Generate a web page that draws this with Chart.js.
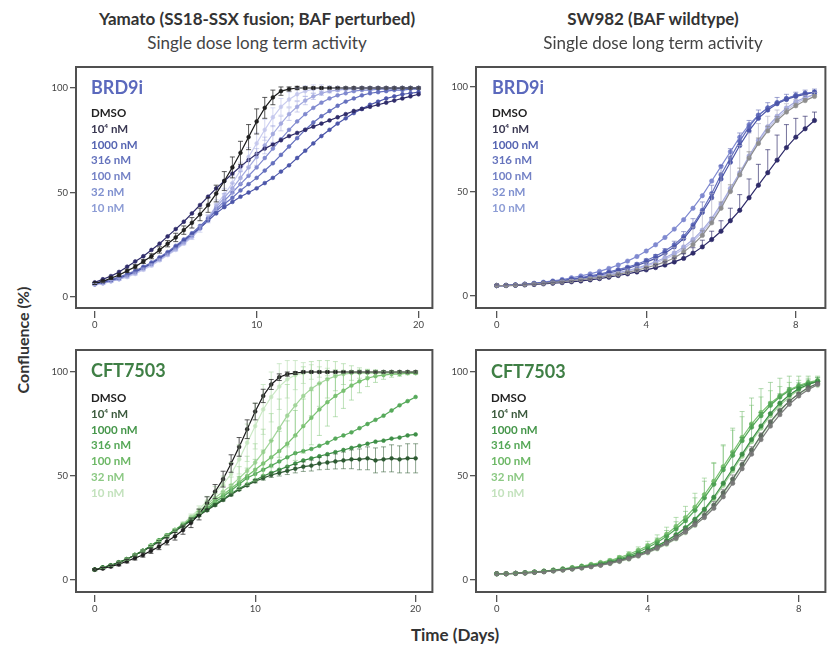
<!DOCTYPE html>
<html><head><meta charset="utf-8">
<script src="https://cdn.jsdelivr.net/npm/chart.js@4.4.0/dist/chart.umd.min.js"></script>
<style>
html,body{margin:0;padding:0;background:#fff;overflow:hidden;width:827px;height:649px;}
body{position:relative;font-family:Lato,"Open Sans",sans-serif;}
canvas{position:absolute;}
.t{position:absolute;white-space:nowrap;color:#333;}
.ttl{font-weight:700;font-size:17px;line-height:22px;text-align:center;width:400px;}
.sub{font-weight:400;font-size:17px;line-height:22px;text-align:center;width:400px;color:#444;}
.ptitle{font-weight:700;font-size:18px;line-height:22px;}
.leg{font-weight:700;font-size:11.5px;line-height:15.8px;}
</style></head><body>
<canvas id="cTL" width="401" height="278" style="left:36px;top:55px"></canvas>
<canvas id="cTR" width="394" height="278" style="left:436px;top:55px"></canvas>
<canvas id="cBL" width="401" height="279" style="left:36px;top:338px"></canvas>
<canvas id="cBR" width="394" height="279" style="left:436px;top:338px"></canvas>
<script>
// ---------- data ----------
const tLong = [0,0.5,1,1.5,2,2.5,3,3.5,4,4.5,5,5.5,6,6.5,7,7.5,8,8.5,9,9.5,10,10.5,11,11.5,12,12.5,13,13.5,14,14.5,15,15.5,16,16.5,17,17.5,18,18.5,19,19.5,20];
const tShort = [0,0.25,0.5,0.75,1,1.25,1.5,1.75,2,2.25,2.5,2.75,3,3.25,3.5,3.75,4,4.25,4.5,4.75,5,5.25,5.5,5.75,6,6.25,6.5,6.75,7,7.25,7.5,7.75,8,8.25,8.5];
const doseLabels = ['DMSO','10\u2074 nM','1000 nM','316 nM','100 nM','32 nM','10 nM'];
const xTicksLong = [0,10,20];
const xTicksShort = [0,4,8];
const yTicks = [0,50,100];

// Yamato, BRD9i
const TL_DMSO = [6.5,7.5,9,10.5,12.5,14.5,17,19.5,22.5,25.5,28.5,32,35.5,39.5,44,49.5,55.5,62,69,76.5,84,90.5,95.5,98.5,99.5,100,100,100,100,100,100,100,100,100,100,100,100,100,100,100,100];
const TL_1e4 = [7,8.5,10,12,14.5,17,19.5,22.5,25.5,29,32.5,36,40,44,48,52,55.5,59,62.5,65.5,68.5,71,73,75,77,78.5,80,81.5,83,84.5,86,87.5,89,90,91,92,93,94,95,96,97];
const TL_1000 = [6.5,7,8,9,10.5,12,14,16,18.5,21,24,27,30,33,36.5,40,43,45.5,48,50,52,54.5,57,60,63,66.5,70,73.5,77,80,83,85.5,88,90,92,93.5,95,96,97,97.5,98];
const TL_316 = [6.5,7.5,8.5,9.5,11,12.5,14.5,16.5,19,21.5,24.5,27.5,30.5,34,37.5,41,44.5,47.5,51,54,57,60.5,64,68,72,76,80,83.5,86.5,89,91.5,93.5,95,96.5,97.5,98,98.5,99,99,99.5,99.5];
const TL_100 = [6,7,8,9,10.5,12,14,16,18.5,21,23.5,26.5,29.5,33,37,42,46,50,54,58,62,66.5,71,75.5,80,84,87.5,90.5,93,95,96.5,97.5,98.5,99,99,99.5,99.5,99.5,100,100,100];
const TL_32 = [6,6.5,7.5,8.5,10,11.5,13.5,15.5,18,20.5,23,26,29,33,38,43,47.5,52,57,62,67,72.5,78,83,87.5,91,94,96,97.5,98.5,99,99.5,99.5,100,100,100,100,100,100,100,100];
const TL_10 = [6,6.5,7.5,8.5,9.5,11,13,15,17.5,20,22.5,25.5,28.5,32.5,37.5,44,49,54.5,60.5,67,73.5,80,86,91,94.5,97,98.5,99.5,100,100,100,100,100,100,100,100,100,100,100,100,100];
const TL_DMSO_err = [0.5,0.5,0.6,0.7,0.8,1,1,1.2,1.5,1.5,2,2,2.5,3,3.5,4,4.5,5,5.5,6,6,5,3.5,2,1,0.8,0.6,0.5,0.5,0.5,0.5,0.5,0.5,0.5,0.5,0.5,0.5,0.5,0.5,0.5,0.5];
const TL_32_err = [0.5,0.5,0.5,0.5,0.5,0.5,0.5,0.5,0.5,0.5,0.5,0.5,0.5,0.5,1,1.5,2,2.5,3,3.5,4,4,4,3.5,3,2.5,2,1.5,1,0.8,0.6,0.5,0.5,0.5,0.5,0.5,0.5,0.5,0.5,0.5,0.5];
const TL_10_err = [0.5,0.5,0.5,0.5,0.5,0.5,0.5,0.5,0.5,0.5,0.5,0.5,1,1.5,2,2.5,3,3.5,4,4.5,5,5,4.5,4,3.5,3,2.5,2,1.5,1,0.8,0.6,0.5,0.5,0.5,0.5,0.5,0.5,0.5,0.5,0.5];

// Yamato, CFT7503
const BL_DMSO = [5,5.5,6.5,7.5,9,10.5,12,14,16,18.5,21,24,27.5,31.5,37,42.5,48.5,56,64,72.5,81,88.5,94,97.5,99,99.5,100,100,100,100,100,100,100,100,100,100,100,100,100,100,100];
const BL_1e4 = [5,6,7,8.5,10,12,14,16,18.5,21,23.5,26,28.5,31,33.5,36,38.5,41,43.5,45.5,47.5,49,50.5,51.5,52.5,53.5,54.5,55,56,56.5,57,57.5,58,58,58.5,57.5,58,58.5,58,58.5,58.5];
const BL_1000 = [5,6,7,8.5,10,12,14,16.5,19,21.5,24,26.5,29,31.5,34,36.5,39,41.5,44,46,48,50,51.5,53,54.5,56,57.5,58.5,59.5,60.5,61.5,62.5,63.5,64.5,65.5,66.5,67,68,68.5,69.5,70];
const BL_316 = [5,6,7,8.5,10,12,14,16.5,19,21.5,24,26.5,29,31.5,34.5,37.5,40,43,46,49,51,53,55,57,59,61,62,63,64.5,66,68,69.5,71,73,75,77,79,81.5,84,86,88];
const BL_100 = [5,6,7,8.5,10,12,14,16.5,19,21.5,24,26.5,29.5,32.5,35.5,38.5,41,44,47,50,53,56,59,62,65.5,69.5,74,78,82,85.5,88.5,91,93.5,95.5,97,98,98.5,99,99,99.5,99.5];
const BL_32 = [5,6,7,8.5,10,12,14,16.5,19,21.5,24,27,30,33,36.5,39.5,42.5,45.5,49,52.5,56.5,61.5,67,73,79,84,88.5,92,94.5,96.5,98,99,99.5,99.5,99.5,99.5,99.5,99.5,99.5,99.5,99.5];
const BL_10 = [5,6,7,8.5,10,12,14,16.5,19,21.5,24,27,30.5,34,38,42,46,51,58,66,74,82,88,93,96.5,98.5,99.5,100,100,100,100,100,100,100,100,100,100,100,100,100,100];
const BL_DMSO_err = [0.5,0.5,0.6,0.7,0.8,0.9,1,1.2,1.4,1.6,1.8,2,2.3,2.6,3,3.4,3.8,4.2,4.5,4.5,4,3.2,2.4,1.6,1,0.7,0.5,0.5,0.5,0.5,0.5,0.5,0.5,0.5,0.5,0.5,0.5,0.5,0.5,0.5,0.5];
const BL_1e4_err = [0.5,0.5,0.5,0.5,0.5,0.5,0.5,0.5,0.5,0.5,0.5,0.5,0.5,0.5,0.5,0.5,0.5,0.5,0.5,0.5,0.8,1,1.2,1.5,1.8,2,2.3,2.6,3,3.3,3.6,4,4.5,5,5.5,6,6,6.5,6.5,7,7];
const BL_100_err = [0.5,0.5,0.5,0.5,0.5,0.5,0.5,0.5,0.5,0.5,0.5,0.5,0.5,0.5,0.7,1,1.4,2,2.8,3.8,5,6.5,8,9.5,11,12,13,13,12.5,11.5,10,8.5,7,5.5,4,3,2,1.5,1,0.8,0.6];
const BL_32_err = [0.5,0.5,0.5,0.5,0.5,0.5,0.5,0.5,0.5,0.5,0.5,0.5,0.8,1,1.4,2,3,4,5.5,7,9,11,13,14,15,15,14,13,11,9,7,5,3.5,2.5,1.8,1.2,0.8,0.6,0.5,0.5,0.5];
const BL_10_err = [0.5,0.5,0.5,0.5,0.5,0.5,0.5,0.5,0.5,0.5,0.7,0.9,1.2,1.6,2.2,3,4,5.5,7,9,11,12,12,11,9,7,5,3.5,2.5,1.8,1.2,0.8,0.6,0.5,0.5,0.5,0.5,0.5,0.5,0.5,0.5];

// SW982, BRD9i
const TR_DMSO = [5,5,5.2,5.5,5.8,6.1,6.5,6.9,7.3,7.8,8.3,8.9,9.6,10.4,11.3,12.3,13.5,14.8,16.3,18.2,21,24.5,29,35,42,50,58,66,73,79,84,88,91,93.5,95.5];
const TR_1e4 = [5,5,5.1,5.3,5.5,5.8,6.1,6.4,6.8,7.2,7.7,8.3,9,9.8,10.6,11.5,12.5,13.6,14.8,16.3,18,20.5,23.5,27,31,36,41,47,53,59,65,71,76,80,84];
const TR_1000 = [5,5.1,5.3,5.6,5.9,6.3,6.8,7.3,7.9,8.5,9.2,10,11,12,13.2,14.6,16.2,18,20.5,23.5,27.5,33,40,47,56,64,72,79,85,89,92,94,95.5,96.5,97.5];
const TR_316 = [5,5.1,5.3,5.6,6,6.4,6.9,7.5,8.1,8.8,9.6,10.5,11.5,12.6,13.8,15.2,17,19,21.5,24.5,28.5,34,41,49,58,66,74,81,86.5,90,92.5,94.5,96,97,97.5];
const TR_100 = [5,5.1,5.3,5.7,6.1,6.6,7.2,7.9,8.7,9.6,10.6,11.8,13.2,14.8,16.7,18.9,21.5,24.5,28,32,36.5,42,48,55,62,69,76,82,86.5,90,92.5,94.5,96,97,97.5];
const TR_32 = [5,5,5.2,5.5,5.8,6.2,6.6,7.1,7.6,8.2,8.8,9.5,10.3,11.2,12.2,13.4,14.8,16.4,18.3,20.6,23.5,27,31.5,37,44,51.5,59,67,74.5,81,86,90,93,95,96.5];
const TR_10 = [5,5,5.2,5.5,5.8,6.1,6.5,7,7.5,8,8.6,9.3,10,10.9,11.9,13,14.3,15.8,17.6,19.8,22.5,26,30.5,36,43,50.5,58,66,73.5,80,85,89,92,94.5,96.5];
const TR_DMSO_err = [0.2,0.2,0.2,0.2,0.2,0.2,0.2,0.2,0.2,0.2,0.3,0.3,0.4,0.4,0.5,0.6,0.7,0.8,1,1.2,1.5,1.8,2.2,2.6,3,3.2,3.2,3,2.6,2.2,1.8,1.5,1.2,1,0.8];
const TR_1e4_err = [0.3,0.3,0.3,0.3,0.3,0.3,0.4,0.4,0.4,0.5,0.5,0.6,0.7,0.8,0.9,1,1.2,1.4,1.6,1.9,2.2,2.6,3.2,4,5,6,7.5,9,10,11,12,11,9,6,4];
const TR_1000_err = [0.2,0.2,0.2,0.3,0.3,0.3,0.4,0.4,0.5,0.5,0.6,0.7,0.8,0.9,1,1.2,1.5,1.8,2.2,2.7,3.3,4,5,6,6.5,6.5,6,5,4,3.5,3,2.5,2,2,1.5];
const TR_10_err = [0.2,0.2,0.2,0.2,0.3,0.3,0.3,0.4,0.4,0.5,0.5,0.6,0.7,0.8,1,1.2,1.5,2,2.5,3.5,5,7,10,13,16,16,14,12,9,6,4,3,2,1.5,1];

// SW982, CFT7503
const BR_DMSO = [3,3,3.2,3.4,3.7,4,4.4,4.8,5.3,5.8,6.4,7.1,8,9,10.2,11.6,13.3,15.2,17.5,20,23,26.5,30,34.5,40,46.5,53.5,60.5,67.5,74,79.5,84.5,88.5,91.5,94];
const BR_1e4 = [3,3,3.2,3.4,3.7,4,4.4,4.9,5.4,6,6.6,7.3,8.2,9.3,10.5,12,13.7,15.7,18,20.7,23.8,27.2,31.2,36,42,48.5,55.5,62.5,69.5,76,81.5,86,89.5,92.5,94.5];
const BR_1000 = [3,3,3.2,3.5,3.8,4.2,4.6,5.1,5.6,6.2,6.9,7.7,8.6,9.7,11,12.5,14.3,16.4,18.9,21.8,25.2,29.2,34,39.8,46.5,53.5,60.5,67.5,74,80,85,89,92,94,95.5];
const BR_316 = [3,3,3.2,3.5,3.8,4.2,4.7,5.2,5.8,6.5,7.2,8,9,10.2,11.6,13.4,15.6,18,21,24.5,28.5,33.5,39.5,46,53,60,67,73.5,79,84,88,91,93,94.5,95.5];
const BR_100 = [3,3,3.2,3.5,3.9,4.3,4.8,5.4,6,6.7,7.5,8.4,9.4,10.8,12.4,14.3,16.5,19,22,25.8,30,35,41,47.5,54.5,61.5,68.5,75,80.5,85,88.5,91.5,93.5,95,96];
const BR_32 = [3,3,3.2,3.4,3.7,4.1,4.5,5,5.5,6.1,6.8,7.6,8.5,9.6,10.9,12.4,14.2,16.3,18.7,21.5,24.8,28.8,33.5,39,45.5,52.5,59.5,66.5,73,79,84,88,91.5,94,95.5];
const BR_10 = [3,3,3.1,3.3,3.6,3.9,4.3,4.7,5.2,5.7,6.3,7,7.8,8.8,10,11.4,13,14.9,17.1,19.7,22.7,26.2,30.3,35.3,41.2,48,55,62,69,75.5,81,86,89.5,92,93.5];
const BR_DMSO_err = [0.2,0.2,0.2,0.2,0.2,0.2,0.2,0.2,0.3,0.3,0.4,0.4,0.5,0.6,0.7,0.8,1,1.2,1.4,1.7,2,2.4,2.8,3.2,3.6,4,4,3.6,3.2,2.8,2.4,2,1.6,1.3,1];
const BR_1000_err = [0.2,0.2,0.2,0.2,0.2,0.2,0.2,0.2,0.3,0.3,0.4,0.5,0.6,0.7,0.9,1.1,1.4,1.8,2.3,2.9,3.6,4.5,5.5,6.5,7.5,8,8,7.5,6.5,5.5,4.5,3.5,2.8,2.2,1.8];
const BR_316_err = [0.2,0.2,0.2,0.2,0.2,0.2,0.2,0.2,0.3,0.3,0.4,0.5,0.6,0.8,1,1.3,1.7,2.2,2.8,3.5,4.5,6,8,10,12,13,14,14,13,11,9,7,5,3.5,2.5];
const BR_100_err = [0.2,0.2,0.2,0.2,0.2,0.2,0.2,0.2,0.3,0.3,0.4,0.5,0.7,0.9,1.2,1.6,2.1,2.7,3.4,4.3,5.4,6.7,8,9,10,10.5,10,9,7.5,6,4.5,3.5,2.5,2,1.5];

// ---------- styles ----------
const blueLine = ['#1c1c1c','#2f2c6a','#4c56a9','#6570be','#8089cf','#a4aadf','#c9ccef'];
const blueLineTR = ['#8e8e8e','#2f2c6a','#4c56a9','#6570be','#7f89d0','#a4aadf','#c0c4ea'];
const greenLine = ['#1c1c1c','#2e5a33','#3e8f47','#56a95a','#79c171','#a2d59a','#cbe9c5'];
const greenLineBR = ['#7a7a7a','#5a6a5c','#3e8f47','#56a95a','#79c171','#a2d59a','#c3e4bd'];
const blueText = ['#222222','#3a3852','#5564b2','#6573bd','#7482c6','#7f90cf','#8c9cd5'];
const greenText = ['#222222','#3b5a3d','#45964a','#56a858','#6db866','#8cc984','#c3e2bd'];

Chart.defaults.font.family = 'Lato, "Open Sans", sans-serif';

const boxPlugin = {
  id:'box',
  afterDraw(chart){
    const a = chart.chartArea, ctx = chart.ctx;
    ctx.save();
    ctx.strokeStyle = '#505050'; ctx.lineWidth = 2;
    ctx.strokeRect(a.left, a.top, a.right - a.left, a.bottom - 3 - a.top);
    ctx.restore();
  }
};
const errPlugin = {
  id:'errbars',
  afterDatasetsDraw(chart){
    const ctx = chart.ctx, xs = chart.scales.x, ys = chart.scales.y, a = chart.chartArea;
    ctx.save();
    ctx.beginPath(); ctx.rect(a.left, a.top, a.right - a.left, a.bottom - 3 - a.top); ctx.clip();
    for (let i = chart.data.datasets.length - 1; i >= 0; i--) {
      const ds = chart.data.datasets[i];
      if (!ds.err) continue;
      ctx.strokeStyle = ds.errColor; ctx.lineWidth = 0.9;
      ds.data.forEach((p, j) => {
        const e = ds.err[j]; if (!e) return;
        const x = xs.getPixelForValue(p.x);
        const yt = ys.getPixelForValue(p.y + e);
        const yb = ds.errUp ? ys.getPixelForValue(p.y) : ys.getPixelForValue(p.y - e);
        ctx.beginPath();
        ctx.moveTo(x, yb); ctx.lineTo(x, yt);
        ctx.moveTo(x - 2.5, yt); ctx.lineTo(x + 2.5, yt);
        if (!ds.errUp) { ctx.moveTo(x - 2.5, yb); ctx.lineTo(x + 2.5, yb); }
        ctx.stroke();
      });
    }
    ctx.restore();
  }
};

function makePanel(id, t, series, errs, colors, errColors, xr, yr, xt, errUp, pr) {
  const datasets = series.map((s, k) => ({
    data: s.map((v, i) => ({x: t[i], y: v})),
    borderColor: colors[k], backgroundColor: colors[k],
    borderWidth: 1.2, pointRadius: pr, pointBorderWidth: 0.6,
    pointBackgroundColor: colors[k], pointBorderColor: colors[k],
    tension: 0, err: errs[k], errColor: errColors[k], errUp: errUp
  }));
  new Chart(document.getElementById(id), {
    type: 'line',
    data: { datasets },
    options: {
      responsive: false, animation: false, devicePixelRatio: 1,
      layout: { padding: { top: 12, right: 0, bottom: 0, left: 0 } },
      plugins: { legend: { display: false }, tooltip: { enabled: false } },
      scales: {
        x: { type: 'linear', min: xr[0], max: xr[1],
          afterBuildTicks: s => { s.ticks = xt.map(v => ({value: v})); },
          afterFit: s => { s.height = 22; },
          grid: { drawOnChartArea: false, drawTicks: true, tickLength: 7, color: '#555', lineWidth: 1.3 },
          border: { display: false },
          ticks: { padding: 1, color: '#444', font: { size: 9.5 }, maxRotation: 0, autoSkip: false } },
        y: { type: 'linear', min: yr[0], max: yr[1],
          afterBuildTicks: s => { s.ticks = yTicks.map(v => ({value: v})); },
          afterFit: s => { s.width = 40; },
          grid: { drawOnChartArea: false, drawTicks: true, tickLength: 6, color: '#555', lineWidth: 1.3 },
          border: { display: false },
          ticks: { padding: 2, color: '#444', font: { size: 9.5 } } }
      }
    },
    plugins: [errPlugin, boxPlugin]
  });
}

const errL = ['rgba(40,40,40,0.85)','rgba(47,44,106,0.7)','rgba(76,86,169,0.5)','rgba(101,112,190,0.5)','rgba(128,137,207,0.5)','rgba(164,170,223,0.6)','rgba(190,194,235,0.7)'];
const errG = ['rgba(40,40,40,0.85)','rgba(46,90,51,0.6)','rgba(62,143,71,0.5)','rgba(86,169,90,0.5)','rgba(121,193,113,0.55)','rgba(162,213,154,0.7)','rgba(190,225,184,0.8)'];
const errTR = ['rgba(140,140,140,0.8)','rgba(47,44,106,0.75)','rgba(76,86,169,0.6)','rgba(101,112,190,0.6)','rgba(128,137,207,0.6)','rgba(164,170,223,0.7)','rgba(180,180,200,0.8)'];
const errBR = ['rgba(110,110,110,0.7)','rgba(90,106,92,0.6)','rgba(62,143,71,0.55)','rgba(110,185,105,0.6)','rgba(121,193,113,0.6)','rgba(162,213,154,0.7)','rgba(190,225,184,0.8)'];

makePanel('cTL', tLong, [TL_DMSO,TL_1e4,TL_1000,TL_316,TL_100,TL_32,TL_10],
  [TL_DMSO_err,null,null,null,null,TL_32_err,TL_10_err], blueLine, errL,
  [-1.159, 20.854], [-6.70, 110.05], xTicksLong, false, 1.9);
makePanel('cTR', tShort, [TR_DMSO,TR_1e4,TR_1000,TR_316,TR_100,TR_32,TR_10],
  [TR_DMSO_err,TR_1e4_err,TR_1000_err,null,null,null,TR_10_err], blueLineTR, errTR,
  [-0.554, 8.792], [-7.18, 109.57], xTicksShort, true, 2.2);
makePanel('cBL', tLong, [BL_DMSO,BL_1e4,BL_1000,BL_316,BL_100,BL_32,BL_10],
  [BL_DMSO_err,BL_1e4_err,null,null,BL_100_err,BL_32_err,BL_10_err], greenLine, errG,
  [-1.169, 21.046], [-7.21, 110.58], xTicksLong, false, 1.9);
makePanel('cBR', tShort, [BR_DMSO,BR_1e4,BR_1000,BR_316,BR_100,BR_32,BR_10],
  [BR_DMSO_err,null,BR_1000_err,BR_316_err,BR_100_err,null,null], greenLineBR, errBR,
  [-0.549, 8.706], [-7.21, 110.58], xTicksShort, true, 2.2);

// ---------- text ----------
function addText(cls, txt, left, top, color, extra) {
  const d = document.createElement('div');
  d.className = 't ' + cls; d.textContent = txt;
  d.style.left = left + 'px'; d.style.top = top + 'px';
  if (color) d.style.color = color;
  if (extra) Object.assign(d.style, extra);
  document.body.appendChild(d);
  return d;
}
addText('ttl', 'Yamato (SS18-SSX fusion; BAF perturbed)', 57, 8, '#333');
addText('sub', 'Single dose long term activity', 57, 32);
addText('ttl', 'SW982 (BAF wildtype)', 453, 8, '#333');
addText('sub', 'Single dose long term activity', 453, 32);

function addLegend(x, titleTop, title, titleColor, firstTop, textColors) {
  addText('ptitle', title, x, titleTop, titleColor);
  doseLabels.forEach((lab, k) => addText('leg', lab, x, firstTop + k * 15.8, textColors[k]));
}
addLegend(91, 76, 'BRD9i', '#5b69bd', 105, blueText);
addLegend(492, 76, 'BRD9i', '#5b69bd', 105, blueText);
addLegend(91, 359, 'CFT7503', '#3f7f45', 390, greenText);
addLegend(491, 360, 'CFT7503', '#3f7f45', 390, greenText);

addText('', 'Confluence (%)', 22, 340, '#333', {fontWeight:'700', fontSize:'16px', transform:'translate(-50%,-50%) rotate(-90deg)'});
addText('', 'Time (Days)', 455, 634, '#333', {fontWeight:'700', fontSize:'17px', transform:'translate(-50%,-50%)'});
</script>
</body></html>
